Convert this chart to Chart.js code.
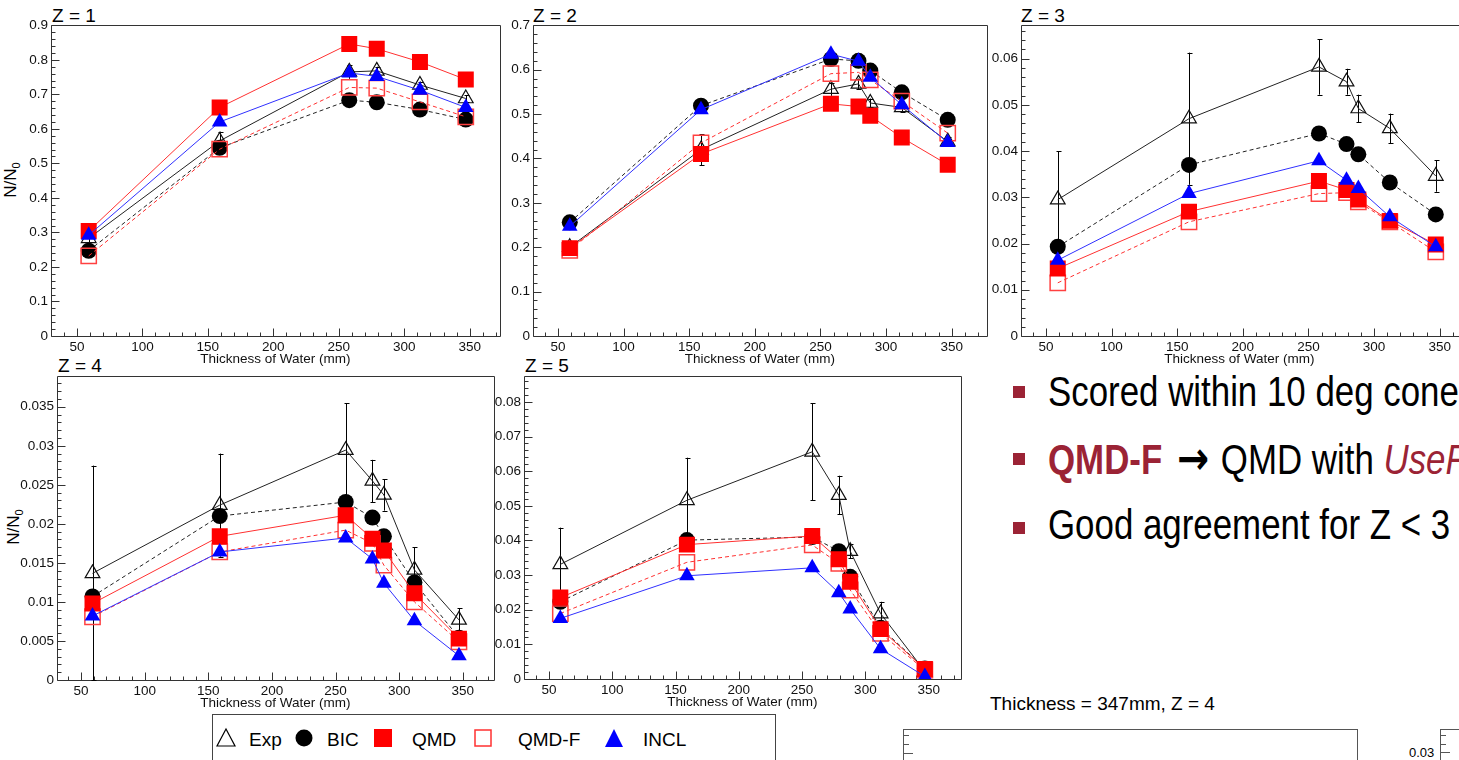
<!DOCTYPE html>
<html>
<head>
<meta charset="utf-8">
<title>N/N0 vs thickness of water</title>
<script src="https://cdn.jsdelivr.net/npm/chart.js@4.4.1/dist/chart.umd.min.js"></script>
<style>
  html, body { margin: 0; padding: 0; overflow: hidden; }
  body {
    width: 1459px; height: 760px; position: relative; background: #fff;
    font-family: 'Liberation Sans', Arial, Helvetica, sans-serif; color: #000;
  }
  .panel { position: absolute; }
  .panel canvas { display: block; }
  .ztitle { position: absolute; font-size: 19px; line-height: 19px; white-space: nowrap; }
  .ylab { position: absolute; font-size: 17px; line-height: 17px; white-space: nowrap; transform: translate(-50%, -50%) rotate(-90deg); }
  .ylab sub { font-size: 11px; vertical-align: -4px; }
  .bullet { position: absolute; left: 1013px; width: 12px; height: 12px; background: #9b2335; }
  .btext {
    position: absolute; left: 1048px; font-size: 42px; line-height: 42px; white-space: nowrap;
    transform: scaleX(0.83); transform-origin: 0 0;
  }
  .arrow { font-family: 'DejaVu Sans', sans-serif; font-weight: bold; font-size: 46px; margin: 0 14px 0 18px; }
  .red { color: #9b2335; }
  #legend { position: absolute; left: 212px; top: 714px; width: 562px; height: 60px; border: 1px solid #444; }
  #legend svg, #legend span { position: absolute; }
  #legend span { font-size: 19px; line-height: 19px; top: 15px; }
  .frame { position: absolute; border: 1px solid #555; }
  .small { position: absolute; font-size: 13px; line-height: 13px; white-space: nowrap; }
  .tick { position: absolute; height: 1px; background: #555; }
</style>
</head>
<body>

<div class="ztitle" style="left:52px; top:6px">Z = 1</div>
<div class="ztitle" style="left:533px; top:6px">Z = 2</div>
<div class="ztitle" style="left:1021px; top:6px">Z = 3</div>
<div class="ztitle" style="left:58px; top:356px">Z = 4</div>
<div class="ztitle" style="left:525px; top:356px">Z = 5</div>

<div class="ylab" style="left:13px; top:180px">N/N<sub>0</sub></div>
<div class="ylab" style="left:16px; top:527px">N/N<sub>0</sub></div>

<div class="bullet" style="top:386px"></div>
<div class="btext" style="top:371px">Scored within 10 deg cone</div>
<div class="bullet" style="top:453px"></div>
<div class="btext" style="top:437px"><b class="red">QMD-F</b><span class="arrow">→</span>QMD with <i class="red">UseF</i></div>
<div class="bullet" style="top:522px"></div>
<div class="btext" style="top:504px">Good agreement for Z &lt; 3</div>

<div id="legend">
  <svg style="left:2px; top:12px" width="22" height="22"><polygon points="11,2 20,19 2,19" fill="none" stroke="#000" stroke-width="1.2"/></svg>
  <span style="left:36px">Exp</span>
  <svg style="left:82px; top:14px" width="18" height="18"><circle cx="9" cy="9" r="8.5" fill="#000"/></svg>
  <span style="left:114px">BIC</span>
  <svg style="left:161px; top:14px" width="18" height="18"><rect x="0" y="0" width="18" height="18" fill="#ff0000"/></svg>
  <span style="left:199px">QMD</span>
  <svg style="left:261px; top:14px" width="18" height="18"><rect x="1" y="1" width="16" height="16" fill="none" stroke="#ff3030" stroke-width="1.5"/></svg>
  <span style="left:305px">QMD-F</span>
  <svg style="left:391px; top:13px" width="20" height="20"><polygon points="10,1 19,19 1,19" fill="#0000ff"/></svg>
  <span style="left:430px">INCL</span>
</div>

<div class="small" style="left:990px; top:694px; font-size:19px; line-height:19px">Thickness = 347mm, Z = 4</div>
<div class="frame" style="left:903px; top:729px; width:453px; height:60px"></div>
<div class="tick" style="left:904px; top:735px; width:5px"></div>
<div class="tick" style="left:904px; top:744px; width:5px"></div>
<div class="tick" style="left:904px; top:753px; width:9px"></div>
<div class="small" style="left:1409px; top:746px">0.03</div>
<div class="frame" style="left:1440px; top:729px; width:60px; height:60px"></div>
<div class="tick" style="left:1441px; top:735px; width:5px"></div>
<div class="tick" style="left:1441px; top:744px; width:5px"></div>
<div class="tick" style="left:1441px; top:752px; width:9px"></div>

<script>
// water thickness (mm) where the fragments were scored
const thicknessZ1 = [59, 159, 258, 279, 312, 347];
const thickness = [59, 159, 258, 279, 288, 312, 347];
const xTickLabels = [50, 100, 150, 200, 250, 300, 350];

// Z = 1
const z1Exp = [0.283, 0.565, 0.765, 0.768, 0.727, 0.688];
const z1ExpErr = [0.012, 0.027, 0.02, 0.012, 0.01, 0.01];
const z1Bic = [0.247, 0.545, 0.683, 0.677, 0.656, 0.627];
const z1Qmd = [0.304, 0.662, 0.846, 0.832, 0.794, 0.743];
const z1QmdF = [0.232, 0.541, 0.72, 0.718, 0.678, 0.635];
const z1Incl = [0.292, 0.62, 0.762, 0.752, 0.712, 0.662];
const z1YTicks = [0, 0.1, 0.2, 0.3, 0.4, 0.5, 0.6, 0.7, 0.8, 0.9];

// Z = 2
const z2Exp = [0.2, 0.42, 0.556, 0.568, 0.525, 0.515, 0.438];
const z2ExpErr = [0.01, 0.035, 0.015, 0.012, 0.01, 0.01, 0.01];
const z2Bic = [0.256, 0.519, 0.624, 0.62, 0.598, 0.549, 0.487];
const z2Qmd = [0.198, 0.41, 0.523, 0.517, 0.496, 0.447, 0.386];
const z2QmdF = [0.193, 0.435, 0.591, 0.594, 0.577, 0.529, 0.457];
const z2Incl = [0.247, 0.51, 0.635, 0.619, 0.583, 0.521, 0.436];
const z2YTicks = [0, 0.1, 0.2, 0.3, 0.4, 0.5, 0.6, 0.7];

// Z = 3
const z3Exp = [0.0295, 0.047, 0.0582, 0.055, 0.0492, 0.0449, 0.0346];
const z3ExpErr = [0.0105, 0.0143, 0.006, 0.0028, 0.003, 0.0032, 0.0034];
const z3Bic = [0.0193, 0.037, 0.0438, 0.0415, 0.0393, 0.0332, 0.0263];
const z3Qmd = [0.0146, 0.0269, 0.0335, 0.0316, 0.0295, 0.0249, 0.0198];
const z3QmdF = [0.0115, 0.0247, 0.0308, 0.031, 0.029, 0.0247, 0.0182];
const z3Incl = [0.0164, 0.0308, 0.0379, 0.0337, 0.0319, 0.0258, 0.0193];
const z3YTicks = [0, 0.01, 0.02, 0.03, 0.04, 0.05, 0.06];

// Z = 4
const z4Exp = [0.01366, 0.0224, 0.02945, 0.0255, 0.0237, 0.0141, 0.0077];
const z4ExpErr = [0.0138, 0.0066, 0.006, 0.0027, 0.002, 0.0029, 0.0015];
const z4Bic = [0.0107, 0.021, 0.0228, 0.0208, 0.0184, 0.0125, 0.0054];
const z4Qmd = [0.0098, 0.0184, 0.0211, 0.0181, 0.0166, 0.0111, 0.0053];
const z4QmdF = [0.0081, 0.0164, 0.0192, 0.0175, 0.0147, 0.01, 0.0049];
const z4Incl = [0.0082, 0.0164, 0.0182, 0.0155, 0.0124, 0.0076, 0.0031];
const z4YTicks = [0, 0.005, 0.01, 0.015, 0.02, 0.025, 0.03, 0.035];

// Z = 5
const z5Exp = [0.0331, 0.0516, 0.0656, 0.0531, 0.0369, 0.0189, 0.0022];
const z5ExpErr = [0.0106, 0.0123, 0.014, 0.0056, 0.002, 0.0034, 0.0005];
const z5Bic = [0.0223, 0.0401, 0.041, 0.0369, 0.0295, 0.0148, 0.003];
const z5Qmd = [0.0235, 0.0388, 0.0413, 0.0346, 0.0281, 0.0144, 0.0029];
const z5QmdF = [0.0189, 0.0337, 0.0387, 0.0334, 0.0257, 0.0132, 0.0026];
const z5Incl = [0.0175, 0.0298, 0.0321, 0.0249, 0.0202, 0.0087, 0.0007];
const z5YTicks = [0, 0.01, 0.02, 0.03, 0.04, 0.05, 0.06, 0.07, 0.08];

// frame = [left, top, right, bottom] of the plot box on the page
const panels = [
  { xs: thicknessZ1, exp: z1Exp, err: z1ExpErr, bic: z1Bic, qmd: z1Qmd, qmdF: z1QmdF, incl: z1Incl,
    yTicks: z1YTicks, yMax: 0.9, yMinor: 0.02, xMin: 30.2, xMax: 372.9, frame: [51, 25, 500, 336] },
  { xs: thickness, exp: z2Exp, err: z2ExpErr, bic: z2Bic, qmd: z2Qmd, qmdF: z2QmdF, incl: z2Incl,
    yTicks: z2YTicks, yMax: 0.7, yMinor: 0.02, xMin: 31, xMax: 376.7, frame: [533, 25, 987, 336] },
  // this one runs off the right edge of the slide
  { xs: thickness, exp: z3Exp, err: z3ExpErr, bic: z3Bic, qmd: z3Qmd, qmdF: z3QmdF, incl: z3Incl,
    yTicks: z3YTicks, yMax: 0.0672, yMinor: 0.002, xMin: 31, xMax: 363.7, frame: [1021, 25, 1458, 336], openRight: true },
  { xs: thickness, exp: z4Exp, err: z4ExpErr, bic: z4Bic, qmd: z4Qmd, qmdF: z4QmdF, incl: z4Incl,
    yTicks: z4YTicks, yMax: 0.0389, yMinor: 0.001, xMin: 31.1, xMax: 374.3, frame: [57, 376, 494, 680] },
  { xs: thickness, exp: z5Exp, err: z5ExpErr, bic: z5Bic, qmd: z5Qmd, qmdF: z5QmdF, incl: z5Incl,
    yTicks: z5YTicks, yMax: 0.0874, yMinor: 0.002, xMin: 30.3, xMax: 375.3, frame: [524, 376, 961, 679] }
];

const styles = {
  exp:  { borderColor: '#222', pointStyle: 'triangle', pointRadius: 8.5, pointBackgroundColor: 'rgba(0,0,0,0)',
          pointBorderColor: '#111', pointBorderWidth: 1.2 },
  bic:  { borderColor: '#222', borderDash: [4, 3], pointStyle: 'circle', pointRadius: 8,
          pointBackgroundColor: '#000', pointBorderColor: '#000', pointBorderWidth: 0 },
  qmd:  { borderColor: '#ff3030', pointStyle: 'rect', pointRadius: 11.3, pointBackgroundColor: '#ff0000',
          pointBorderColor: '#ff0000', pointBorderWidth: 0 },
  qmdF: { borderColor: '#ff3030', borderDash: [4, 3], pointStyle: 'rect', pointRadius: 10.8,
          pointBackgroundColor: 'rgba(0,0,0,0)', pointBorderColor: '#ff4040', pointBorderWidth: 1.5 },
  incl: { borderColor: '#3030ff', pointStyle: 'triangle', pointRadius: 9, pointBackgroundColor: '#0000ff',
          pointBorderColor: '#0000ff', pointBorderWidth: 0 }
};

Chart.defaults.font.family = "'Liberation Sans', Arial, Helvetica, sans-serif";

// ROOT-like frame with inward ticks
const rootFrame = {
  id: 'rootFrame',
  beforeDatasetsDraw(chart, args, opts) {
    const { ctx, chartArea: a, scales: { x, y } } = chart;
    const L = Math.round(a.left) + 0.5, T = Math.round(a.top) + 0.5;
    const R = Math.round(a.right) + 0.5, B = Math.round(a.bottom) + 0.5;
    ctx.save();
    ctx.strokeStyle = '#333';
    ctx.lineWidth = 1;
    ctx.beginPath();
    ctx.moveTo(R + (opts.openRight ? 3 : 0), T);
    ctx.lineTo(L, T);
    ctx.lineTo(L, B);
    ctx.lineTo(R + (opts.openRight ? 3 : 0), B);
    if (!opts.openRight) ctx.lineTo(R, T);
    for (let v = Math.ceil(x.min / 10) * 10; v <= x.max; v += 10) {
      const px = Math.round(x.getPixelForValue(v)) + 0.5;
      const len = v % 50 === 0 ? 8 : 4;
      ctx.moveTo(px, B);
      ctx.lineTo(px, B - len);
    }
    for (let i = 0; i * opts.yMinor <= y.max + 1e-9; i++) {
      const py = Math.round(y.getPixelForValue(i * opts.yMinor)) + 0.5;
      const len = i % 5 === 0 ? 8 : 4;
      ctx.moveTo(L, py);
      ctx.lineTo(L + len, py);
    }
    ctx.stroke();
    ctx.restore();
  }
};

// vertical error bars with small caps
const errorBars = {
  id: 'errorBars',
  beforeDatasetsDraw(chart) {
    const { ctx, scales: { x, y } } = chart;
    ctx.save();
    chart.data.datasets.forEach(ds => {
      if (!ds.errors) return;
      ctx.strokeStyle = ds.errorColor || '#000';
      ctx.lineWidth = 1;
      ctx.beginPath();
      ds.data.forEach((pt, i) => {
        const e = ds.errors[i];
        if (!e) return;
        const px = Math.round(x.getPixelForValue(pt.x)) + 0.5;
        const top = y.getPixelForValue(pt.y + e);
        const bot = y.getPixelForValue(Math.max(pt.y - e, 0));
        ctx.moveTo(px, top); ctx.lineTo(px, bot);
        ctx.moveTo(px - 2, Math.round(top) + 0.5); ctx.lineTo(px + 3, Math.round(top) + 0.5);
        ctx.moveTo(px - 2, Math.round(bot) + 0.5); ctx.lineTo(px + 3, Math.round(bot) + 0.5);
      });
      ctx.stroke();
    });
    ctx.restore();
  }
};

function series(label, xs, ys, style) {
  return Object.assign({
    label: label,
    data: xs.map((x, i) => ({ x: x, y: ys[i] })),
    showLine: true,
    borderWidth: 1,
    fill: false
  }, style);
}

function buildConfig(p, padT, padR, padL, axisH) {
  // first dataset is drawn on top
  const exp = series('Exp', p.xs, p.exp, styles.exp);
  exp.errors = p.err;
  const datasets = [
    series('INCL', p.xs, p.incl, styles.incl),
    series('QMD', p.xs, p.qmd, styles.qmd),
    series('QMD-F', p.xs, p.qmdF, styles.qmdF),
    series('BIC', p.xs, p.bic, styles.bic),
    exp
  ];
  return {
    type: 'scatter',
    data: { datasets: datasets },
    plugins: [rootFrame, errorBars],
    options: {
      responsive: false,
      animation: false,
      devicePixelRatio: 1,
      events: [],
      layout: { padding: { left: 0, top: padT, right: padR, bottom: 0 } },
      plugins: {
        legend: { display: false },
        tooltip: { enabled: false },
        rootFrame: { yMinor: p.yMinor, openRight: !!p.openRight }
      },
      scales: {
        x: {
          type: 'linear',
          min: p.xMin,
          max: p.xMax,
          afterBuildTicks: s => { s.ticks = xTickLabels.map(v => ({ value: v })); },
          afterFit: s => { s.height = axisH; },
          grid: { display: false, drawTicks: false },
          border: { display: false },
          ticks: { padding: 3, color: '#111', font: { size: 13.5 }, maxRotation: 0, autoSkip: false },
          title: {
            display: true,
            text: 'Thickness of Water (mm)',
            color: '#111',
            font: { size: 13.5 },
            padding: { top: 0, bottom: 1 }
          }
        },
        y: {
          type: 'linear',
          min: 0,
          max: p.yMax,
          afterBuildTicks: s => { s.ticks = p.yTicks.map(v => ({ value: v })); },
          afterFit: s => { s.width = padL; },
          grid: { display: false, drawTicks: false },
          border: { display: false },
          ticks: {
            padding: 3,
            color: '#111',
            font: { size: 13.5 },
            autoSkip: false,
            callback: v => String(+v.toFixed(4))
          }
        }
      }
    }
  };
}

function makePanel(p) {
  const [l, t, r, b] = p.frame;
  const padL = 50, padT = 12, padR = p.openRight ? 1 : 2, axisH = 32;
  const box = document.createElement('div');
  box.className = 'panel';
  box.style.left = (l - padL) + 'px';
  box.style.top = (t - padT) + 'px';
  document.body.appendChild(box);

  const draw = (w, h) => {
    box.innerHTML = '';
    box.style.width = w + 'px';
    box.style.height = h + 'px';
    const canvas = document.createElement('canvas');
    canvas.width = w;
    canvas.height = h;
    canvas.style.width = w + 'px';
    canvas.style.height = h + 'px';
    box.appendChild(canvas);
    return new Chart(canvas, buildConfig(p, padT, padR, padL, axisH));
  };

  let w = r - l + padL + padR;
  const h = b - t + padT + axisH;
  let chart = draw(w, h);
  // Chart.js keeps some room for the last tick label; widen the canvas so the plot box lands on the frame
  const short = Math.round(padL + (r - l) - chart.chartArea.right);
  if (short > 0) {
    chart.destroy();
    w += short;
    chart = draw(w, h);
  }
}

panels.forEach(makePanel);
</script>
</body>
</html>
